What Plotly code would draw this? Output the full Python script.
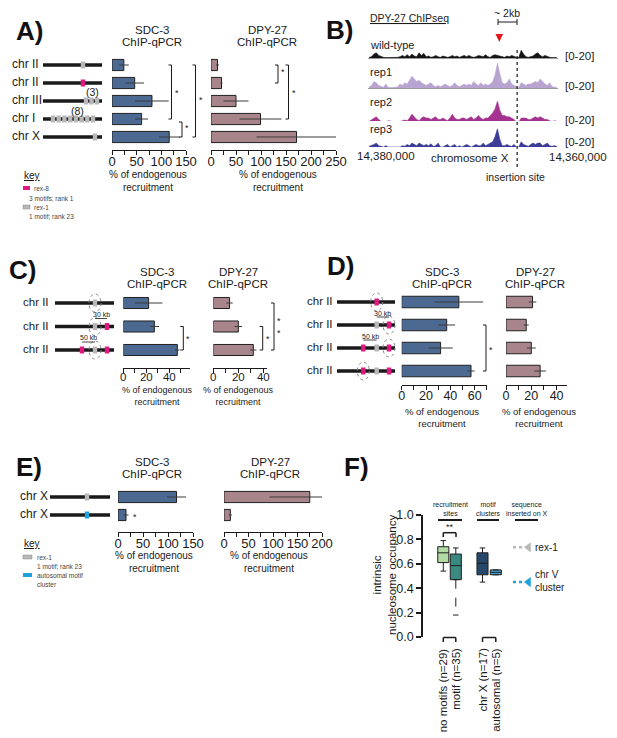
import numpy as np
import plotly.graph_objects as go

W, H = 617, 738
FONT = "Liberation Sans"
INK = "#1a1a1a"

def px(x):
    return x / W

def py(y):
    return 1 - y / H

# ---------------- data ----------------
# A) insertions on autosomes / X
a_labels = ["chr II", "chr II", "chr III", "chr I", "chr X"]
a_sdc = [24, 46, 81, 60, 116]
a_sdc_err = [10, 19, 34, 13, 21]
a_dpy = [13, 21, 50, 99, 171]
a_dpy_err = [3, 2, 25, 42, 80]

# B) DPY-27 ChIP-seq coverage, 250 bp bins from 14,380,000 towards 14,360,000
track_start = 14380000
bin_bp = 250
wt_cov = [0.5, 1, 3, 4, 2, 1, 0.5, 0.3, 0.3, 0.3,
          0.3, 0.3, 0.5, 1, 2, 1, 2.5, 1, 3, 1.5,
          1, 4, 2, 3.5, 1, 1.5, 0.5, 1, 2, 1,
          0.5, 1.5, 1, 0.5, 1, 2, 1, 1.5, 0.5, 1,
          2, 1, 2, 1, 0.5, 1, 2, 1.5, 1, 2.5,
          1, 0.5, 2, 2.5, 2, 1, 1, 0.5, 1.5, 1,
          2, 1, 0.5, 0.3, 6, 3, 1, 0.5, 1, 1.5,
          3, 4, 2, 1, 2, 1, 0.5, 0.3, 0.3, 0.3]
rep1_cov = [1, 2, 5, 4, 2, 1, 0.5, 3, 0.5, 0.3,
            0.3, 0.5, 1, 3, 2, 4, 3, 6, 9, 7,
            5, 6, 4, 3, 2, 3, 4, 2, 1, 2,
            1, 2, 3, 2, 1, 2, 4, 2, 1, 2,
            3, 2, 3, 2, 5, 3, 2, 4, 2, 3,
            2, 3, 5, 10, 19, 11, 4, 3, 4, 7,
            3, 2, 1, 0.3, 4, 3, 2, 3, 3, 4,
            5, 4, 7, 5, 3, 2, 4, 1, 0.5, 0.3]
rep2_cov = [0.5, 1.5, 3, 4, 2, 0.5, 0, 0, 1, 0.5,
            0, 0, 0, 0, 1, 1.5, 1, 3, 6, 4,
            2, 1, 3, 4, 3, 3, 2, 3, 4, 2,
            2, 3, 2, 1, 3, 6, 3, 2, 2, 3,
            3, 2, 3, 4, 2, 3, 5, 3, 2, 3,
            3, 5, 7, 10, 16, 9, 5, 5, 4, 4,
            3, 2, 0, 0, 3, 3, 3, 2, 2, 3,
            4, 3, 4, 3, 2, 2, 1, 0, 1, 0.5]
rep3_cov = [0.5, 1, 2, 3, 1, 0.5, 0, 1, 0, 0,
            0, 0, 0, 0, 1, 0.5, 2, 1, 3, 2,
            1, 3, 2, 1, 2, 1, 2.5, 0.5, 1, 3,
            0, 0, 1, 2, 0, 1, 2, 0, 1, 0,
            1, 2, 1, 0, 1, 2, 1, 1, 3, 1,
            2, 3, 4, 8, 14, 6, 1, 1, 2, 1,
            0.5, 2, 0, 0, 4, 2, 1, 0.5, 2, 3,
            2, 3, 3, 1, 2, 3, 1, 0.5, 1, 0.5]
insertion_site = 14364300

# C) rex-1 with rex-8 nearby
c_labels = ["chr II", "chr II", "chr II"]
c_sdc = [22, 27, 47]
c_sdc_err = [12, 4, 2]
c_dpy = [13, 20, 32]
c_dpy_err = [2.5, 3, 2.5]

# D) rex-8 with rex-1 nearby
d_labels = ["chr II", "chr II", "chr II", "chr II"]
d_sdc = [47, 37, 32, 57]
d_sdc_err = [20, 7, 10, 3]
d_dpy = [21, 16, 20, 27]
d_dpy_err = [3, 2, 3.5, 4.5]

# E) insertion on X
e_labels = ["chr X", "chr X"]
e_sdc = [117, 16]
e_sdc_err = [19, 5]
e_dpy = [175, 13]
e_dpy_err = [82, 3]

# F) intrinsic nucleosome occupancy
f_groups = ["no motifs (n=29)", "motif (n=35)", "chr X (n=17)", "autosomal (n=5)"]
f_q1 = [0.61, 0.47, 0.51, 0.51]
f_med = [0.69, 0.585, 0.605, 0.53]
f_q3 = [0.74, 0.68, 0.69, 0.55]
f_lo = [0.54, 0.18, 0.45, 0.51]
f_hi = [0.79, 0.73, 0.73, 0.55]
inserted_names = ["rex-1", "chr V<br>cluster"]
inserted_occ = [0.735, 0.45]

# ---------------- styling ----------------
SDC_COL = "#4b6991"
DPY_COL = "#a8848b"
MAG = "#e0187f"
GRAY = "#b8b8b8"
CYAN = "#1ea2dc"
F_COLS = ["#b3dba4", "#3b8a80", "#26486b", "#45a3d6"]
TRACK_COLS = ["#141414", "#b9a4d1", "#a3338f", "#3a3c98"]

fig = go.Figure()
layout = {}
shapes = []
ann = []


def text(x, y, s, size=11, xanchor="center", yanchor="middle", angle=0, color=INK):
    ann.append(dict(x=px(x), y=py(y), xref="paper", yref="paper", text=s, showarrow=False,
                    font=dict(size=size, color=color, family=FONT),
                    xanchor=xanchor, yanchor=yanchor, textangle=angle))


def line(x0, y0, x1, y1, color=INK, width=1, dash="solid"):
    shapes.append(dict(type="line", xref="paper", yref="paper", x0=px(x0), y0=py(y0),
                       x1=px(x1), y1=py(y1), line=dict(color=color, width=width, dash=dash)))


def rect(x0, y0, x1, y1, fill, lc=None):
    shapes.append(dict(type="rect", xref="paper", yref="paper", x0=px(x0), y0=py(y0),
                       x1=px(x1), y1=py(y1), fillcolor=fill,
                       line=dict(color=lc or fill, width=0.5 if lc else 0)))


def axname(kind, k):
    return kind + ("" if k == 1 else str(k))


def bar_panel(k, vals, errs, color, x0, x1, xmax, dtick, labstep, row0, step, axis_y, bar_w,
              tsize=13, standoff=-5):
    fig.add_trace(go.Bar(x=vals, y=list(range(len(vals))), orientation="h", width=bar_w,
                         marker=dict(color=color, line=dict(color="#202020", width=1)),
                         error_x=dict(type="data", array=errs, color="#3a3a3a", thickness=1, width=0),
                         xaxis=axname("x", k), yaxis=axname("y", k), showlegend=False, hoverinfo="skip"))
    top = row0 - step * 0.8
    tv = list(np.arange(0, xmax + 0.01, dtick))
    tt = [f"{v:g}" if v % labstep == 0 else "" for v in tv]
    layout[axname("xaxis", k)] = dict(domain=[px(x0), px(x1)], range=[0, xmax], anchor=axname("y", k),
                                     showline=True, linecolor=INK, linewidth=1, ticks="outside",
                                     ticklen=4, tickcolor=INK, tickvals=tv, ticktext=tt,
                                     ticklabelstandoff=standoff,
                                     tickfont=dict(size=tsize, color=INK, family=FONT),
                                     showgrid=False, zeroline=False, automargin=False)
    layout[axname("yaxis", k)] = dict(domain=[py(axis_y), py(top)],
                                     range=[(axis_y - row0) / step, (top - row0) / step],
                                     visible=False, anchor=axname("x", k), automargin=False)


def bracket(x, y0, y1, star_y, stars="*"):
    line(x, y0, x, y1)
    line(x - 3, y0, x, y0)
    line(x - 3, y1, x, y1)
    text(x + 5, star_y, stars, size=9)


def chrom(x0, x1, y, feats, circles=()):
    line(x0, y, x1, y, width=3.5)
    for xc, col in feats:
        rect(xc - 2.2, y - 3.5, xc + 2.2, y + 3.5, col)
    for xc in circles:
        shapes.append(dict(type="circle", xref="paper", yref="paper", x0=px(xc - 6), x1=px(xc + 6),
                           y0=py(y - 9), y1=py(y + 9), line=dict(color="#8a8a8a", width=1, dash="dot")))


def kb_scale(xa, xb, y, lab):
    line(xa, y, xb, y, width=0.8)
    text((xa + xb) / 2, y - 4, lab, size=7)


def titles(xc, y, name):
    text(xc, y, name, size=11.5)
    text(xc, y + 12, "ChIP-qPCR", size=11.5)


def xlab(xc, y, size=10):
    text(xc, y, "% of endogenous<br>recruitment", size=size)


def panel_label(x, y, s):
    text(x, y, f"<b>{s}</b>", size=26, color="#111")


# ---------------- A ----------------
A_ROW0, A_STEP = 65, 18
panel_label(29, 31, "A)")
bar_panel(1, a_sdc, a_sdc_err, SDC_COL, 112, 186, 150, 25, 50, A_ROW0, A_STEP, 150, 0.62)
bar_panel(2, a_dpy, a_dpy_err, DPY_COL, 211, 336, 250, 25, 50, A_ROW0, A_STEP, 150, 0.62)
titles(152, 30, "SDC-3")
titles(267, 30, "DPY-27")
xlab(148, 181)
xlab(278, 181)
for i, lab in enumerate(a_labels):
    text(10, A_ROW0 + i * A_STEP - 1, lab, size=12, xanchor="left")
ar = [A_ROW0 + i * A_STEP for i in range(5)]
chrom(43, 102, ar[0], [(83, GRAY)])
chrom(43, 102, ar[1], [(83, MAG)])
chrom(43, 102, ar[2], [(86, GRAY), (91.5, GRAY), (97, GRAY)])
text(92, ar[2] - 9, "(3)", size=10.5)
chrom(43, 102, ar[3], [(53 + j * 40 / 7, GRAY) for j in range(8)])
text(77, ar[3] - 8, "(8)", size=10.5)
chrom(43, 102, ar[4], [(95, GRAY)])
bracket(171.5, ar[0], ar[3], 93)
bracket(195.5, ar[0], ar[4], 100)
bracket(182, ar[3] + 3, ar[4], 128)
bracket(278, ar[0], ar[1], 72)
bracket(288.5, ar[0], ar[3], 93)
# key A
text(22, 175, "<u>key</u>", size=10, xanchor="left")
rect(23, 186, 30, 190, MAG)
text(32, 188, "rex-8", size=6.5, xanchor="left", color="#444")
text(27, 198, "3 motifs; rank 1", size=6.5, xanchor="left", color="#444")
rect(23, 205, 30, 209, GRAY, "#888")
text(32, 207, "rex-1", size=6.5, xanchor="left", color="#444")
text(27, 216, "1 motif; rank 23", size=6.5, xanchor="left", color="#444")

# ---------------- B ----------------
panel_label(339, 30, "B)")
text(368, 18, "<u>DPY-27 ChIPseq</u>", size=10.5, xanchor="left")
bins = [track_start - bin_bp * (i + 0.5) for i in range(len(wt_cov))]
track_names = ["wild-type", "rep1", "rep2", "rep3"]
track_data = [wt_cov, rep1_cov, rep2_cov, rep3_cov]
track_base = [58, 88, 122, 147]
track_lab_y = [45, 72, 102, 129]
range_lab_y = [56, 86, 120, 142]
for j, (nm, cov, col, base) in enumerate(zip(track_names, track_data, TRACK_COLS, track_base)):
    k = 3 + j
    fig.add_trace(go.Scatter(x=bins, y=cov, mode="lines", line=dict(color=col, width=0.6),
                             fill="tozeroy", fillcolor=col, xaxis=axname("x", k), yaxis=axname("y", k),
                             showlegend=False, hoverinfo="skip"))
    layout[axname("xaxis", k)] = dict(domain=[px(368), px(558)], range=[track_start, track_start - 20000],
                                     anchor=axname("y", k), showline=j < 2, linecolor="#9a9a9a", linewidth=1,
                                     showticklabels=False, ticks="", showgrid=False, zeroline=False,
                                     automargin=False)
    layout[axname("yaxis", k)] = dict(domain=[py(base), py(base - 26)], range=[0, 20], visible=False,
                                     anchor=axname("x", k), automargin=False)
    text(368, track_lab_y[j], nm, size=11, xanchor="left")
    text(563, range_lab_y[j], "[0-20]", size=11.5, xanchor="left")
# insertion site dotted line, tied to track 1 x axis
shapes.append(dict(type="line", xref="x3", yref="paper", x0=insertion_site, x1=insertion_site,
                   y0=py(167), y1=py(49), line=dict(color=INK, width=1.2, dash="dot")))
# red arrow at the peak
shapes.append(dict(type="path", xref="paper", yref="paper",
                   path=f"M {px(495.5)},{py(34)} L {px(503)},{py(34)} L {px(499.3)},{py(42)} Z",
                   fillcolor="#e8141c", line=dict(color="#e8141c", width=0)))
line(498, 22, 517, 22, width=1)
line(498, 19, 498, 25, width=1)
line(517, 19, 517, 25, width=1)
text(507, 13, "~ 2kb", size=10.5)
text(386, 156, "14,380,000", size=11.5)
text(470, 158, "chromosome X", size=11.5)
text(578, 157, "14,360,000", size=11.5)
text(515, 177, "insertion site", size=10.5)

# ---------------- C ----------------
C_ROW0, C_STEP = 303, 23.5
panel_label(22, 270, "C)")
bar_panel(7, c_sdc, c_sdc_err, SDC_COL, 123.3, 190, 58, 10, 20, C_ROW0, C_STEP, 368, 0.47, 11.5, -6)
bar_panel(8, c_dpy, c_dpy_err, DPY_COL, 213.3, 266.7, 42.7, 10, 20, C_ROW0, C_STEP, 368, 0.47, 11.5, -6)
titles(157, 271.5, "SDC-3")
titles(238, 271.5, "DPY-27")
xlab(157, 396, 9)
xlab(238, 396, 9)
cr = [C_ROW0 + i * C_STEP for i in range(3)]
for y, lab in zip(cr, c_labels):
    text(21, y - 1, lab, size=11.5, xanchor="left")
chrom(55, 114, cr[0], [(95, GRAY)], circles=[95])
chrom(55, 114, cr[1], [(95, GRAY), (107, MAG)], circles=[95])
kb_scale(95, 107, cr[1] - 8, "30 kb")
chrom(55, 114, cr[2], [(82, MAG), (95, GRAY), (107, MAG)], circles=[95])
kb_scale(82, 95, cr[2] - 8, "50 kb")
bracket(183.3, cr[1], cr[2], 339)
bracket(262.7, cr[1], cr[2], 339)
bracket(274, cr[0], cr[2], 327, "*<br>*")

# ---------------- D ----------------
D_ROW0, D_STEP = 302, 23
panel_label(340, 266, "D)")
bar_panel(9, d_sdc, d_sdc_err, SDC_COL, 401.7, 486.8, 70, 10, 20, D_ROW0, D_STEP, 385, 0.5, 12.5)
bar_panel(10, d_dpy, d_dpy_err, DPY_COL, 506, 566.7, 48, 10, 20, D_ROW0, D_STEP, 385, 0.5, 12.5)
titles(442, 271.5, "SDC-3")
titles(535, 271.5, "DPY-27")
xlab(442, 417, 9.5)
xlab(539, 417, 9.5)
dr = [D_ROW0 + i * D_STEP for i in range(4)]
for y, lab in zip(dr, d_labels):
    text(305, y - 1, lab, size=11.5, xanchor="left")
chrom(337, 395, dr[0], [(376.7, MAG)], circles=[376.7])
chrom(337, 395, dr[1], [(376.7, GRAY), (389, MAG)], circles=[389])
kb_scale(376.7, 389, dr[1] - 8, "30 kb")
chrom(337, 395, dr[2], [(363.3, MAG), (376.7, GRAY), (389, MAG)], circles=[389])
kb_scale(363.3, 376.7, dr[2] - 8, "50 kb")
chrom(337, 395, dr[3], [(363.3, MAG), (376.7, GRAY), (389, MAG)], circles=[363.3])
bracket(486, dr[1], dr[3], 350)

# ---------------- E ----------------
E_ROW0, E_STEP = 497, 18
panel_label(29, 467, "E)")
bar_panel(11, e_sdc, e_sdc_err, SDC_COL, 118, 193, 150, 25, 50, E_ROW0, E_STEP, 532, 0.62)
bar_panel(12, e_dpy, e_dpy_err, DPY_COL, 224, 322, 200, 25, 50, E_ROW0, E_STEP, 532, 0.62)
titles(152, 462, "SDC-3")
titles(270, 462, "DPY-27")
xlab(154, 562)
xlab(269, 562)
er = [E_ROW0 + i * E_STEP for i in range(2)]
for y, lab in zip(er, e_labels):
    text(18, y - 1, lab, size=12, xanchor="left")
chrom(50, 110, er[0], [(87, GRAY)])
chrom(50, 110, er[1], [(87, CYAN)])
text(135, er[1] + 2, "*", size=9)
text(22, 543, "<u>key</u>", size=10, xanchor="left")
rect(23, 555, 32, 559, GRAY, "#888")
text(35, 557, "rex-1", size=6.5, xanchor="left", color="#444")
text(35, 566, "1 motif; rank 23", size=6.5, xanchor="left", color="#444")
rect(23, 573, 32, 577, CYAN)
text(35, 575, "autosomal motif", size=6.5, xanchor="left", color="#444")
text(35, 584, "cluster", size=6.5, xanchor="left", color="#444")

# ---------------- F ----------------
panel_label(356, 467, "F)")
F0, FU = 443, 13.0  # pixel of first box, pixels per unit

def fx(p):
    return (p - F0) / FU

f_xpx = [443.3, 455.8, 482.5, 495.8]
f_pos = [fx(p) for p in f_xpx]
dashed = [False, True, False, False]
for j in range(4):
    lo = f_q1[j] if dashed[j] else f_lo[j]
    fig.add_trace(go.Box(x=[f_pos[j]], q1=[f_q1[j]], median=[f_med[j]], q3=[f_q3[j]],
                         lowerfence=[lo], upperfence=[f_hi[j]], fillcolor=F_COLS[j],
                         line=dict(color="#1e1e1e", width=1), width=0.85, whiskerwidth=0.5,
                         boxpoints=False, xaxis="x13", yaxis="y13", showlegend=False, hoverinfo="skip"))
    if dashed[j]:
        fig.add_trace(go.Scatter(x=[f_pos[j], f_pos[j]], y=[f_q1[j], f_lo[j]], mode="lines",
                                 line=dict(color="#1e1e1e", width=1, dash="dash"),
                                 xaxis="x13", yaxis="y13", showlegend=False, hoverinfo="skip"))
        fig.add_trace(go.Scatter(x=[f_pos[j] - 0.21, f_pos[j] + 0.21], y=[f_lo[j]] * 2, mode="lines",
                                 line=dict(color="#1e1e1e", width=1),
                                 xaxis="x13", yaxis="y13", showlegend=False, hoverinfo="skip"))
ins_cols = [GRAY, CYAN]
for j in range(2):
    fig.add_trace(go.Scatter(x=[fx(513), fx(523)], y=[inserted_occ[j]] * 2, mode="lines",
                             line=dict(color=ins_cols[j], width=2.5, dash="dot"),
                             xaxis="x13", yaxis="y13", showlegend=False, hoverinfo="skip"))
    fig.add_trace(go.Scatter(x=[fx(528.5)], y=[inserted_occ[j]], mode="markers",
                             marker=dict(symbol="triangle-left", size=9, color=ins_cols[j]),
                             xaxis="x13", yaxis="y13", showlegend=False, hoverinfo="skip"))
ann.append(dict(x=fx(533), y=inserted_occ[0], xref="x13", yref="y13", text=inserted_names[0],
                showarrow=False, xanchor="left", font=dict(size=10, color=INK, family=FONT)))
ann.append(dict(x=fx(533), y=inserted_occ[1] + 0.005, xref="x13", yref="y13", text=inserted_names[1],
                showarrow=False, xanchor="left", align="left", font=dict(size=10, color=INK, family=FONT)))
layout["xaxis13"] = dict(domain=[px(423), px(560)], range=[fx(423), fx(560)], visible=False, anchor="y13",
                         automargin=False)
layout["yaxis13"] = dict(domain=[py(637), py(515)], range=[0, 1], anchor="x13", showline=True,
                         linecolor=INK, linewidth=1.5, ticks="outside", ticklen=5, tickwidth=1.5,
                         tickcolor=INK, tickvals=[0, 0.2, 0.4, 0.6, 0.8, 1.0], tickformat=".1f",
                         tickfont=dict(size=12.5, color=INK, family=FONT), showgrid=False, zeroline=False,
                         automargin=False)
text(384, 575, "intrinsic<br>nucleosome occupancy", size=11.5, angle=-90)
# group headers
for xc, lab, xa, xb in [(450, "recruitment<br>sites", 438, 462), (488, "motif<br>clusters", 477, 499),
                        (527, "sequence<br>inserted on X", 515, 538)]:
    text(xc, 509, lab, size=7)
    line(xa, 520, xb, 520, width=2)
# significance
line(443.3, 532.7, 456, 532.7, width=1.5)
line(443.3, 532.7, 443.3, 537, width=1.5)
line(456, 532.7, 456, 537, width=1.5)
text(449.6, 527, "**", size=9)
# group labels below
for j in range(4):
    text(f_xpx[j], 646, f_groups[j], size=11.5, angle=-90, yanchor="top")
for xa, xb in [(443.3, 455.8), (482.5, 495.8)]:
    line(xa, 637.5, xb, 637.5, width=1.5)
    line(xa, 637.5, xa, 642, width=1.5)
    line(xb, 637.5, xb, 642, width=1.5)

fig.update_layout(**layout)
fig.update_layout(width=W, height=H, autosize=False,
                  margin=dict(l=0, r=0, t=0, b=0, pad=0, autoexpand=False),
                  paper_bgcolor="white", plot_bgcolor="white", boxmode="overlay", barmode="overlay",
                  font=dict(family=FONT, color=INK), shapes=shapes, annotations=ann, showlegend=False)
# the page body has a default 8px margin; drop it so the figure sits at the window origin
fig.write_html("out.html", config={"displayModeBar": False},
               post_script="document.body.style.margin='0px';document.body.style.overflow='hidden';")
